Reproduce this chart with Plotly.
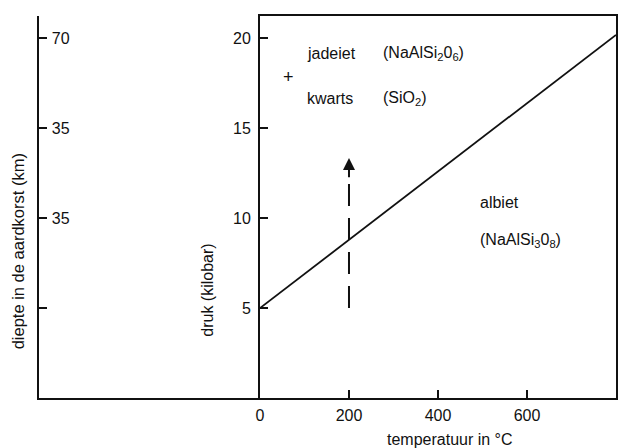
import plotly.graph_objects as go

# ---- data ----
temperature = [0, 800]                 # °C
boundary_pressure = [5.0, 20.2]        # kbar, albiet <-> jadeiet + kwarts
x_tick_values = [0, 200, 400, 600, 800]
x_tick_labels = ["0", "200", "400", "600", "800"]
pressure_ticks = [5, 10, 15, 20]
pressure_tick_labels = ["5", "10", "15", "20"]
depth_tick_labels = ["", "35", "35", "70"]
arrow_temperature = [200, 200]
arrow_pressure = [5.0, 12.3]
arrow_tip_pressure = 13.35

FONT = "Liberation Sans, Arial, Helvetica, sans-serif"
BLACK = "#111111"
Y_RANGE = [0, 21.25]

fig = go.Figure()

# phase boundary
fig.add_trace(go.Scatter(x=temperature, y=boundary_pressure, mode="lines",
                         line=dict(color=BLACK, width=1.8),
                         xaxis="x", yaxis="y", hoverinfo="skip", showlegend=False))
# dashed arrow shaft
fig.add_trace(go.Scatter(x=arrow_temperature, y=arrow_pressure, mode="lines",
                         line=dict(color=BLACK, width=2, dash="22px,12px"),
                         xaxis="x", yaxis="y", hoverinfo="skip", showlegend=False))
# invisible trace for the depth axis subplot
fig.add_trace(go.Scatter(x=[0], y=[0], mode="markers", marker=dict(opacity=0),
                         xaxis="x2", yaxis="y2", hoverinfo="skip", showlegend=False))

annotations = [
    # arrow head
    dict(x=arrow_temperature[0], y=arrow_tip_pressure, ax=arrow_temperature[0], ay=arrow_pressure[1] - 0.1,
         xref="x", yref="y", axref="x", ayref="y", text="", showarrow=True,
         arrowhead=2, arrowsize=1.2, arrowwidth=2, arrowcolor=BLACK),
    dict(x=101, y=19.15, xref="x", yref="y", text="jadeiet", showarrow=False,
         xanchor="left", yanchor="middle"),
    dict(x=272, y=19.15, xref="x", yref="y", text="(NaAlSi<sub>2</sub>0<sub>6</sub>)", showarrow=False,
         xanchor="left", yanchor="middle"),
    dict(x=65, y=17.87, xref="x", yref="y", text="+", showarrow=False,
         xanchor="center", yanchor="middle", font=dict(size=18)),
    dict(x=101, y=16.66, xref="x", yref="y", text="kwarts", showarrow=False,
         xanchor="left", yanchor="middle"),
    dict(x=272, y=16.66, xref="x", yref="y", text="(SiO<sub>2</sub>)", showarrow=False,
         xanchor="left", yanchor="middle"),
    dict(x=490, y=10.9, xref="x", yref="y", text="albiet", showarrow=False,
         xanchor="left", yanchor="middle"),
    dict(x=490, y=8.74, xref="x", yref="y", text="(NaAlSi<sub>3</sub>0<sub>8</sub>)", showarrow=False,
         xanchor="left", yanchor="middle"),
    # axis titles
    dict(x=0.712, y=-0.109, xref="paper", yref="paper", text="temperatuur in °C",
         showarrow=False, xanchor="center", yanchor="middle"),
    dict(x=0.293, y=0.281, xref="paper", yref="paper", text="druk (kilobar)",
         showarrow=False, xanchor="center", yanchor="middle", textangle=-90),
    dict(x=-0.037, y=0.383, xref="paper", yref="paper", text="diepte in de aardkorst (km)",
         showarrow=False, xanchor="center", yanchor="middle", textangle=-90,
         font=dict(size=16.5)),
]

axis_common = dict(showgrid=False, zeroline=False, linecolor=BLACK, linewidth=2,
                   ticks="inside", tickcolor=BLACK, tickwidth=1.6, ticklen=8,
                   tickfont=dict(family=FONT, size=16, color=BLACK))

# the page body adds an 8 px offset, so the figure is 8 px smaller and margins shifted
fig.update_layout(
    width=621, height=440,
    margin=dict(l=31, r=13, t=6, b=50),
    paper_bgcolor="white", plot_bgcolor="white",
    font=dict(family=FONT, size=16, color=BLACK),
    showlegend=False,
    xaxis=dict(domain=[0.383, 1.0], range=[0, 800], anchor="y",
               tickmode="array", tickvals=x_tick_values, ticktext=x_tick_labels,
               showline=True, mirror=True, ticklabelstandoff=2, **axis_common),
    yaxis=dict(domain=[0, 1], range=Y_RANGE, anchor="x",
               tickmode="array", tickvals=pressure_ticks, ticktext=pressure_tick_labels,
               showline=True, mirror=True, ticklabelstandoff=4, **axis_common),
    xaxis2=dict(domain=[0, 0.383], range=[0, 1], anchor="y2", showline=True,
                showticklabels=False, showgrid=False, zeroline=False, ticks="",
                linecolor=BLACK, linewidth=2),
    yaxis2=dict(domain=[0, 1], range=Y_RANGE, anchor="x2",
                tickmode="array", tickvals=pressure_ticks, ticktext=depth_tick_labels,
                showline=True, ticklabelposition="inside", ticklabelstandoff=5,
                **axis_common),
    annotations=annotations,
)

fig.write_html("out.html")
